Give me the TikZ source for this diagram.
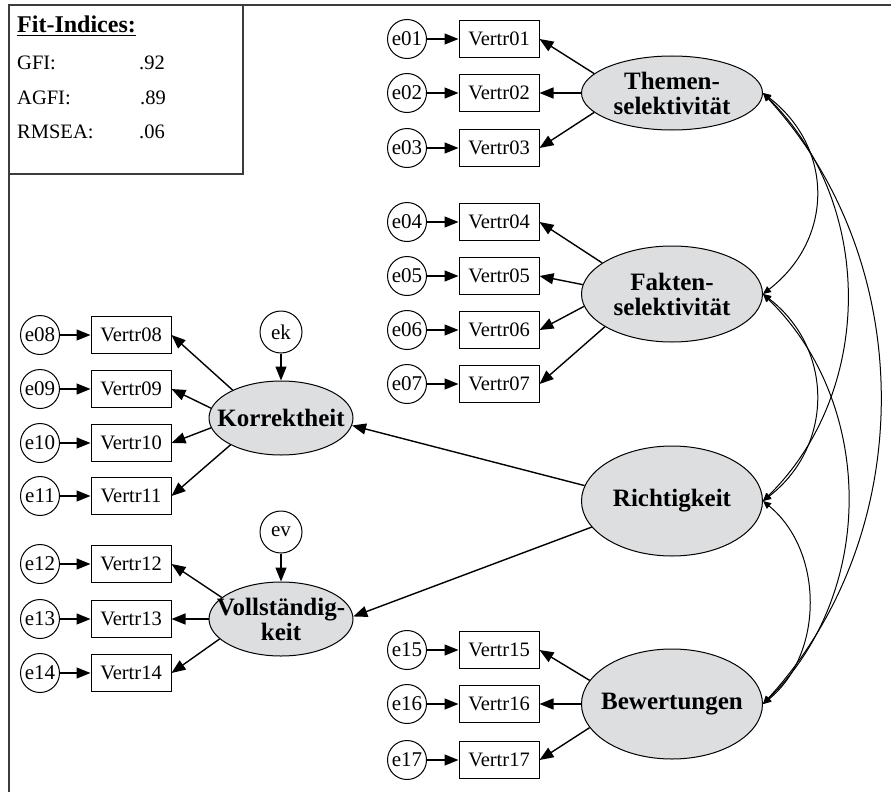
\documentclass[tikz,border=0pt]{standalone}
\usepackage{fontspec}
\setmainfont{Liberation Serif}
\usetikzlibrary{shapes.geometric,arrows.meta}
\definecolor{latfill}{RGB}{221,222,224}
\definecolor{framegray}{RGB}{60,60,60}
\begin{document}
\begin{tikzpicture}[x=1pt,y=-1pt,
  errc/.style={circle,draw,line width=1pt,minimum size=39pt,inner sep=0pt,font=\fontsize{21}{23}\selectfont},
  obs/.style={rectangle,draw,line width=1pt,minimum width=80pt,minimum height=37pt,inner sep=0pt,font=\fontsize{20.5}{22}\selectfont},
  lat/.style={ellipse,draw,line width=1pt,fill=latfill,inner sep=0pt},
  lattext/.style={align=center,inner sep=0pt,font=\bfseries\fontsize{25}{25}\selectfont},
  fittext/.style={anchor=base west,inner sep=0pt,font=\fontsize{20.5}{22}\selectfont},
  arr/.style={-{Triangle[length=14pt,width=11pt]},line width=1.4pt},
  cov/.style={{Triangle[length=8pt,width=7pt]}-{Triangle[length=8pt,width=7pt]},line width=1pt},
]
\useasboundingbox (0,0) rectangle (891,792);
% frame and fit box
\draw[framegray,line width=2.2pt] (9,792) -- (9,5) -- (891,5);
\draw[framegray,line width=2pt] (9,5) rectangle (243,174);
\node[anchor=base west,inner sep=0pt,font=\bfseries\fontsize{24}{26}\selectfont] (fit) at (17,33) {\underline{Fit-Indices:}};
\node[fittext] (gfi) at (17,70) {GFI:};
\node[fittext] (gfiv) at (139,70) {.92};
\node[fittext] (agfi) at (17,104) {AGFI:};
\node[fittext] (agfiv) at (140,104) {.89};
\node[fittext] (rmsea) at (17,138) {RMSEA:};
\node[fittext] (rmseav) at (139,138) {.06};

% latent variables
\node[lat,minimum width=181pt,minimum height=74pt] (T) at (672,93) {};
\node[lattext] (Tt) at (T) {Themen-\\selektivität};
\node[lat,minimum width=181pt,minimum height=96pt] (F) at (672,294) {};
\node[lattext] (Ft) at (F) {Fakten-\\selektivität};
\node[lat,minimum width=181pt,minimum height=110pt] (R) at (672,501) {};
\node[lattext] (Rt) at (R) {Richtigkeit};
\node[lat,minimum width=181pt,minimum height=110pt] (B) at (672,704) {};
\node[lattext] (Bt) at (B) {Bewertungen};
\node[lat,minimum width=144pt,minimum height=74pt] (K) at (281,418) {};
\node[lattext] (Kt) at (K) {Korrektheit};
\node[lat,minimum width=144pt,minimum height=74pt] (V) at (281,619) {};
\node[lattext] (Vt) at (V) {Vollständig-\\keit};

% residuals of latents
\node[errc,minimum size=42pt] (ek) at (281,332) {ek};
\node[errc,minimum size=42pt] (ev) at (281,532) {ev};

% right indicators
\node[errc] (e01) at (407,39) {e01};  \node[obs] (v01) at (499,39) {Vertr01};
\node[errc] (e02) at (407,93) {e02};  \node[obs] (v02) at (499,93) {Vertr02};
\node[errc] (e03) at (407,148) {e03}; \node[obs] (v03) at (499,148) {Vertr03};
\node[errc] (e04) at (407,222) {e04}; \node[obs] (v04) at (499,222) {Vertr04};
\node[errc] (e05) at (407,276) {e05}; \node[obs] (v05) at (499,276) {Vertr05};
\node[errc] (e06) at (407,330) {e06}; \node[obs] (v06) at (499,330) {Vertr06};
\node[errc] (e07) at (407,384) {e07}; \node[obs] (v07) at (499,384) {Vertr07};
\node[errc] (e15) at (407,650) {e15}; \node[obs] (v15) at (499,650) {Vertr15};
\node[errc] (e16) at (407,704) {e16}; \node[obs] (v16) at (499,704) {Vertr16};
\node[errc] (e17) at (407,760) {e17}; \node[obs] (v17) at (499,760) {Vertr17};

% left indicators
\node[errc] (e08) at (40,335) {e08}; \node[obs] (v08) at (131,335) {Vertr08};
\node[errc] (e09) at (40,389) {e09}; \node[obs] (v09) at (131,389) {Vertr09};
\node[errc] (e10) at (40,443) {e10}; \node[obs] (v10) at (131,443) {Vertr10};
\node[errc] (e11) at (40,496) {e11}; \node[obs] (v11) at (131,496) {Vertr11};
\node[errc] (e12) at (40,564) {e12}; \node[obs] (v12) at (131,564) {Vertr12};
\node[errc] (e13) at (40,619) {e13}; \node[obs] (v13) at (131,619) {Vertr13};
\node[errc] (e14) at (40,673) {e14}; \node[obs] (v14) at (131,673) {Vertr14};

% error arrows
\foreach \i in {01,02,03,04,05,06,07,08,09,10,11,12,13,14,15,16,17}
  \draw[arr] (e\i) -- (v\i);

% loadings
\draw[arr] (T.166) -- (v01.east);
\draw[arr] (T.west) -- (v02.east);
\draw[arr] (T.194) -- (v03.east);
\draw[arr] (F.156) -- (v04.east);
\draw[arr] (F.174) -- (v05.east);
\draw[arr] (F.188) -- (v06.east);
\draw[arr] (F.206) -- (v07.east);
\draw[arr] (B.164) -- (v15.east);
\draw[arr] (B.west) -- (v16.east);
\draw[arr] (B.196) -- (v17.east);
\draw[arr] (K.150) -- (v08.east);
\draw[arr] (K.172) -- (v09.east);
\draw[arr] (K.188) -- (v10.east);
\draw[arr] (K.208) -- (v11.east);
\draw[arr] (V.160) -- (v12.east);
\draw[arr] (V.west) -- (v13.east);
\draw[arr] (V.198) -- (v14.east);
\draw[arr] (ek) -- (K);
\draw[arr] (ev) -- (V);
\draw[arr] (R.170) -- (K.-6);
\draw[arr] (R.198) -- (V.2);

% covariances
\draw[cov] (T.east) .. controls +(71,55) and +(71,-55) .. (F.east);
\draw[cov] (F.east) .. controls +(71,55) and +(71,-55) .. (R.east);
\draw[cov] (T.east) .. controls +(112,110) and +(112,-110) .. (R.east);
\draw[cov] (F.east) .. controls +(113,110) and +(113,-110) .. (B.east);
\draw[cov] (T.east) .. controls +(156,170) and +(156,-170) .. (B.east);
\draw[cov] (R.east) .. controls +(61,50) and +(61,-50) .. (B.east);
\end{tikzpicture}
\end{document}
